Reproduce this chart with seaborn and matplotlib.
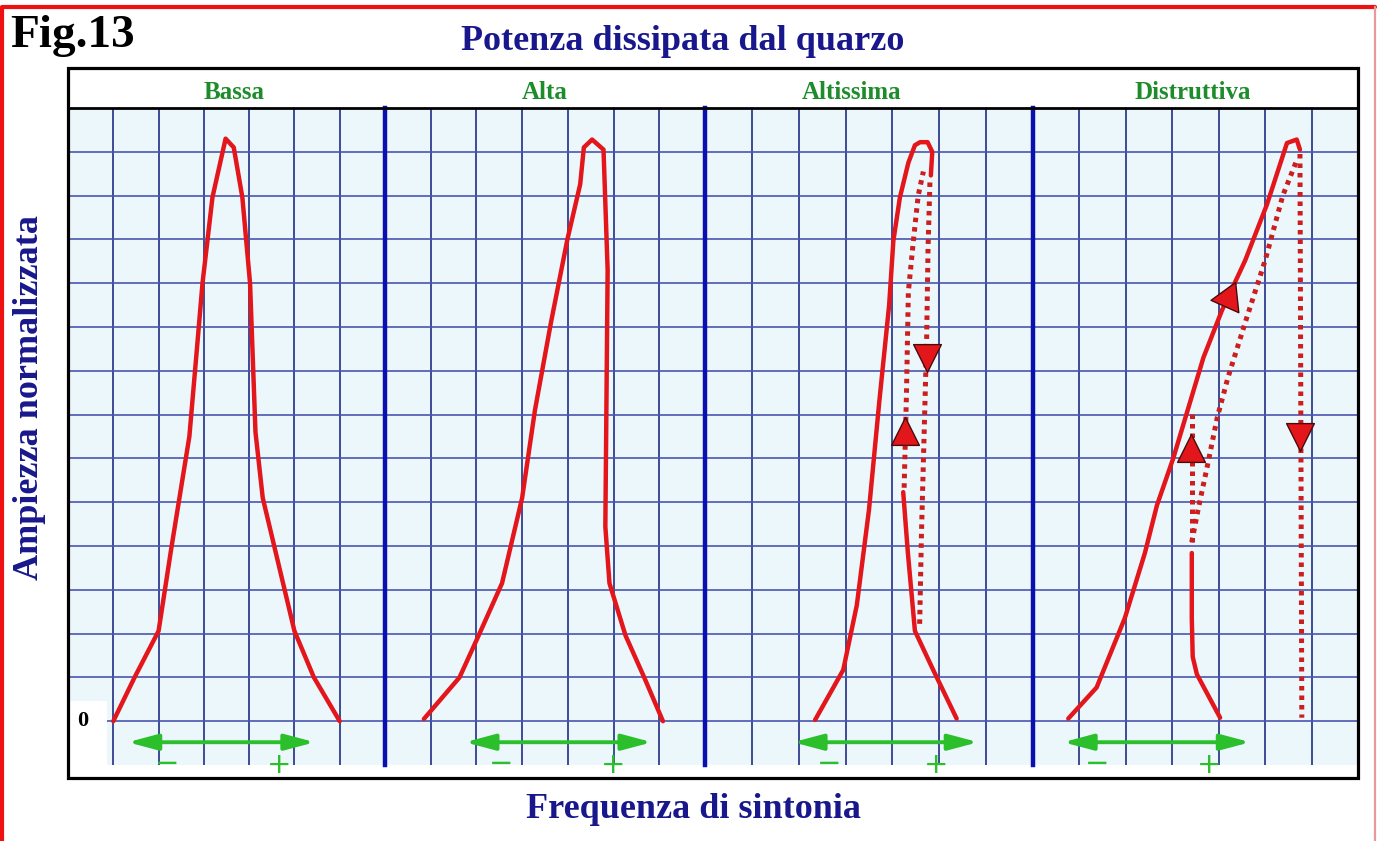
import matplotlib
matplotlib.use("Agg")
import matplotlib.pyplot as plt
import seaborn as sns
from matplotlib.lines import Line2D
from matplotlib.patches import Rectangle

# ---- dati (unita' di griglia: x 0..7 per pannello, y 0..14) ----
panel_titles = ["Bassa", "Alta", "Altissima", "Distruttiva"]

bassa_x = [1.0, 1.47, 2.0, 2.28, 2.68, 2.83, 2.97, 3.19, 3.48, 3.66, 3.85, 4.02, 4.14, 4.3, 5.0, 5.43, 6.0]
bassa_y = [0.0, 1.0, 2.06, 3.94, 6.5, 8.3, 10.0, 11.96, 13.3, 13.1, 11.96, 10.0, 6.6, 5.1, 2.06, 1.0, 0.0]

alta_x = [0.85, 1.63, 2.05, 2.56, 3.0, 3.28, 3.63, 3.99, 4.27, 4.35, 4.53, 4.78, 4.87, 4.82, 4.91, 5.26, 5.67, 6.08]
alta_y = [0.05, 1.0, 1.96, 3.15, 5.1, 7.1, 9.1, 11.0, 12.26, 13.1, 13.28, 13.05, 10.3, 4.44, 3.15, 1.96, 1.0, 0.0]

# Altissima
alts_x = [2.35, 2.95, 3.24, 3.50, 3.72, 3.93, 4.02, 4.16, 4.34, 4.48, 4.59, 4.75, 4.85, 4.82]
alts_y = [0.03, 1.17, 2.65, 4.83, 7.3, 9.5, 10.97, 11.96, 12.75, 13.15, 13.22, 13.22, 13.0, 12.46]
alts_low_x = [4.23, 4.33, 4.48, 4.87, 5.37]
alts_low_y = [5.23, 3.84, 2.06, 1.17, 0.06]
alts_dot_down_x = [4.80, 4.76, 4.73, 4.67, 4.62, 4.58]
alts_dot_down_y = [12.3, 10.8, 8.7, 6.3, 4.3, 2.16]
alts_dot_up_x = [4.25, 4.30, 4.34, 4.45, 4.55, 4.66]
alts_dot_up_y = [5.33, 7.5, 9.8, 11.0, 12.0, 12.55]

# Distruttiva
dist_x = [0.76, 1.37, 1.98, 2.41, 2.67, 3.02, 3.67, 4.07, 4.57, 5.04, 5.47, 5.68, 5.75]
dist_y = [0.06, 0.77, 2.36, 3.84, 4.93, 6.0, 8.3, 9.38, 10.52, 11.8, 13.2, 13.28, 13.05]
dist_low_x = [3.42, 3.42, 3.44, 3.53, 4.03]
dist_low_y = [3.84, 2.36, 1.47, 1.07, 0.08]
dist_dot_vert_x = [5.75, 5.79]
dist_dot_vert_y = [12.95, 0.08]
dist_dot_diag_x = [5.66, 5.38, 5.0, 4.6, 4.2, 3.97, 3.75, 3.55, 3.41]
dist_dot_diag_y = [12.75, 12.0, 10.52, 9.2, 7.85, 6.94, 5.8, 4.8, 4.04]
dist_dot_short_x = [3.43, 3.43]
dist_dot_short_y = [4.1, 7.05]

# punte di freccia rosse: (pannello, x, y, angolo)
tri_panel = [2, 2, 3, 3, 3]
tri_x = [4.74, 4.27, 5.75, 3.40, 4.20]
tri_y = [8.3, 6.62, 6.48, 6.23, 9.66]
tri_angle = [180, 0, 180, 0, -24]

# frecce verdi e segni
garrow_x0 = [1.32, 1.75, 1.88, 0.65]
garrow_x1 = [5.45, 5.84, 5.83, 4.68]
minus_x = [2.19, 2.54, 2.65, 1.39]
plus_x = [4.66, 4.98, 4.94, 3.79]

# ---- stile ----
RED = "#e3161b"
DOTRED = "#cc1e1e"
GREEN = "#2cbf2c"
TGREEN = "#1e8c2a"
NAVY = "#18188c"
BG = "#ecf7fc"
GRID_V = "#2f3d8e"
GRID_H = "#4a56b0"
SEP = "#0a10b0"

sns.set_style("white")
plt.rcParams['font.family'] = ['Liberation Serif', 'DejaVu Sans']

W, H = 1379, 841
fig = plt.figure(figsize=(W / 100, H / 100), dpi=100)


def rect(x0, y0, x1, y1):
    return [x0 / W, 1 - y1 / H, (x1 - x0) / W, (y1 - y0) / H]


edges = [68, 385, 705, 1033, 1358]
title_pos = [3.66, 3.5, 3.12, 3.45]
axes = []
for i in range(4):
    ax = fig.add_axes(rect(edges[i], 108, edges[i + 1], 765))
    ax.set_facecolor(BG)
    ax.set_xlim(0, 7)
    ax.set_ylim(-1, 14)
    ax.set_xticks(range(1, 7))
    ax.set_yticks(range(0, 14))
    ax.tick_params(length=0, labelbottom=False, labelleft=False)
    ax.grid(axis='x', color=GRID_V, lw=1.3)
    ax.grid(axis='y', color=GRID_H, lw=1.2)
    for s in ax.spines.values():
        s.set_visible(False)
    if i > 0:
        ax.spines['left'].set_visible(True)
        ax.spines['left'].set_color(SEP)
        ax.spines['left'].set_linewidth(3.2)
    ax.text(title_pos[i], 14.0 + (108 - 99) / 43.8, panel_titles[i], color=TGREEN,
            fontsize=18, fontweight='bold', ha='center', va='baseline', clip_on=False)
    # freccia verde doppia
    ax.annotate('', xy=(garrow_x1[i], -0.48), xytext=(garrow_x0[i], -0.48),
                arrowprops=dict(arrowstyle='<|-|>,head_length=0.9,head_width=0.24',
                                color=GREEN, lw=2.8, mutation_scale=20,
                                shrinkA=0, shrinkB=0))
    ax.text(minus_x[i], -0.97, "\u2212", color=GREEN, fontsize=21,
            family=['DejaVu Sans'], ha='center', va='center')
    ax.text(plus_x[i], -0.99, "+", color=GREEN, fontsize=21,
            family=['DejaVu Sans'], ha='center', va='center')
    axes.append(ax)

solid = dict(sort=False, estimator=None, color=RED, lw=3.2, legend=False)
dotted = dict(sort=False, estimator=None, color=DOTRED, lw=3.6, legend=False,
              linestyle=(0, (0.9, 1.0)), dash_capstyle='butt')

sns.lineplot(x=bassa_x, y=bassa_y, ax=axes[0], **solid)
sns.lineplot(x=alta_x, y=alta_y, ax=axes[1], **solid)
sns.lineplot(x=alts_x, y=alts_y, ax=axes[2], **solid)
sns.lineplot(x=alts_low_x, y=alts_low_y, ax=axes[2], **solid)
sns.lineplot(x=alts_dot_down_x, y=alts_dot_down_y, ax=axes[2], **dotted)
sns.lineplot(x=alts_dot_up_x, y=alts_dot_up_y, ax=axes[2], **dotted)
sns.lineplot(x=dist_x, y=dist_y, ax=axes[3], **solid)
sns.lineplot(x=dist_low_x, y=dist_low_y, ax=axes[3], **solid)
sns.lineplot(x=dist_dot_vert_x, y=dist_dot_vert_y, ax=axes[3], **dotted)
sns.lineplot(x=dist_dot_diag_x, y=dist_dot_diag_y, ax=axes[3], **dotted)
sns.lineplot(x=dist_dot_short_x, y=dist_dot_short_y, ax=axes[3], **dotted)

for p, x, y, a in zip(tri_panel, tri_x, tri_y, tri_angle):
    size = 640 if a not in (0, 180) else 400
    marker = (3, 0, a) if a not in (0, 180) else ('^' if a == 0 else 'v')
    axes[p].scatter([x], [y], marker=marker, s=size, color=RED,
                    edgecolor="#4a0a0a", linewidth=1.0, zorder=5)

# etichetta "0"
axes[0].add_patch(Rectangle((0.0, -1.0), 0.86, 1.45, facecolor='white',
                            edgecolor='none', zorder=1))
axes[0].text(0.33, 0.0, "0", fontsize=16, fontweight='bold', color='black',
             ha='center', va='center')

# cornice nera e riga intestazione
fig.add_artist(Rectangle((68 / W, 1 - 778 / H), 1290 / W, 710 / H, transform=fig.transFigure,
                         fill=False, edgecolor='black', lw=2.3, zorder=5))
fig.add_artist(Line2D([68 / W, 1358 / W], [1 - 108 / H] * 2, color='black', lw=2.0, zorder=5))

# bordo rosso esterno
fig.add_artist(Line2D([2 / W, 2 / W, 1375 / W], [0, 1 - 7 / H, 1 - 7 / H], color="#ee1111",
                      lw=3.0, zorder=6))
fig.add_artist(Line2D([1375 / W, 1375 / W], [1 - 7 / H, 0], color="#e89a9a", lw=1.6, zorder=6))

# testi
fig.text(10 / W, 1 - 47 / H, "Fig.13", fontsize=34, fontweight='bold', color='black',
         ha='left', va='baseline')
fig.text(683 / W, 1 - 50 / H, "Potenza dissipata dal quarzo", fontsize=26, fontweight='bold',
         color=NAVY, ha='center', va='baseline')
fig.text(694 / W, 1 - 818 / H, "Frequenza di sintonia", fontsize=26, fontweight='bold',
         color=NAVY, ha='center', va='baseline')
fig.text(30 / W, 1 - 397 / H, "Ampiezza normalizzata", fontsize=26, fontweight='bold',
         color=NAVY, ha='center', va='center', rotation=90)

fig.savefig("out.png", dpi=100)
